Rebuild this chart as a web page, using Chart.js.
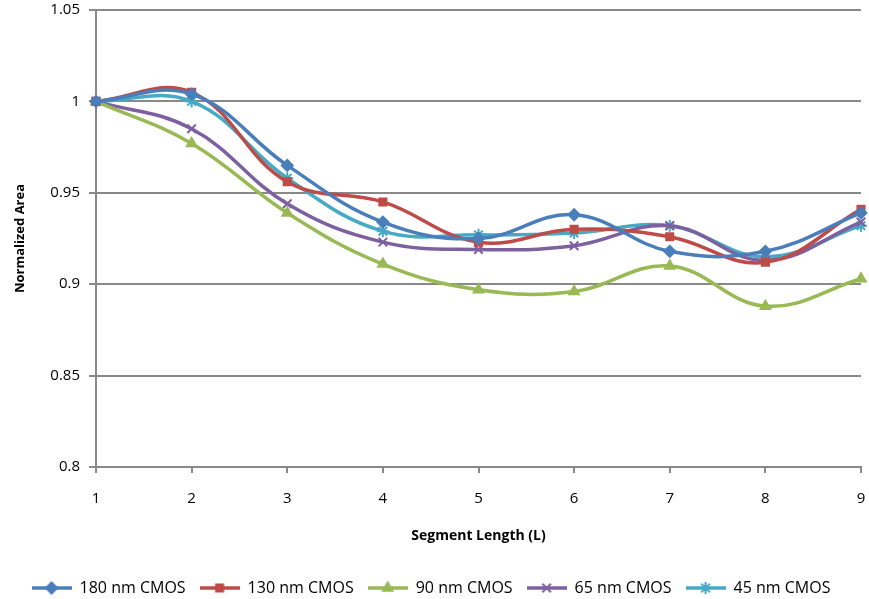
<!DOCTYPE html>
<html>
<head>
<meta charset="utf-8">
<script src="https://cdn.jsdelivr.net/npm/chart.js@4"></script>
<style>
  html, body { margin: 0; padding: 0; background: #fff; overflow: hidden; }
  canvas { display: block; }
</style>
</head>
<body>
<canvas id="areachart" width="869" height="599"></canvas>
<script>
'use strict';

const segments = [1, 2, 3, 4, 5, 6, 7, 8, 9];

const cmos180 = [1.000, 1.004, 0.965, 0.934, 0.925, 0.938, 0.918, 0.918, 0.939];
const cmos130 = [1.000, 1.005, 0.956, 0.945, 0.923, 0.930, 0.926, 0.912, 0.941];
const cmos90  = [1.000, 0.977, 0.939, 0.911, 0.897, 0.896, 0.910, 0.888, 0.903];
const cmos65  = [1.000, 0.985, 0.944, 0.923, 0.919, 0.921, 0.932, 0.913, 0.934];
const cmos45  = [1.000, 1.000, 0.958, 0.929, 0.927, 0.928, 0.932, 0.915, 0.932];

const seriesNames = ["180 nm CMOS", "130 nm CMOS", "90 nm CMOS", "65 nm CMOS", "45 nm CMOS"];
const seriesValues = [cmos180, cmos130, cmos90, cmos65, cmos45];
const colors = ["#4a7ebb", "#be4b48", "#98b954", "#7d60a0", "#46aac5"];
const markers = ["rectRot", "rect", "triangle", "crossRot", "star"];
const markerSizes = [5.5, 5, 5.5, 6, 6];

const font = "'Open Sans', 'Noto Sans', sans-serif";
const gridGrey = "#898989";

// legend swatch: short line with the marker on top, like Excel does it
function makeSwatch(color, style, r){
    var c = document.createElement("canvas");
    c.width = 40;
    c.height = 16;
    var g = c.getContext("2d");
    g.strokeStyle = color;
    g.fillStyle = color;
    g.lineWidth = 3.5;
    g.beginPath();
    g.moveTo(0, 8);
    g.lineTo(40, 8);
    g.stroke();
    g.lineWidth = 2;
    Chart.helpers.drawPoint(g, {
        pointStyle: style, radius: r, borderWidth: 2, rotation: 0
    }, 20, 8);
    return c;
}

var datasets = seriesNames.map((name, i) => ({
    label: name,
    data: seriesValues[i],
    borderColor: colors[i],
    backgroundColor: colors[i],
    borderWidth: 3.5,
    tension: 0.4,
    pointStyle: markers[i],
    pointRadius: markerSizes[i],
    pointBorderWidth: 2,
    pointHoverRadius: markerSizes[i]
}));

const ctx = document.getElementById('areachart').getContext('2d');

var areachart = new Chart(ctx, {
    type: 'line',
    data: {
        labels: segments,
        datasets: datasets
    },
    options: {
        responsive: false,
        animation: false,
        layout: { padding: { left: 0, right: 7, top: 10, bottom: -7 } },
        plugins: {
            tooltip: { enabled: false },
            legend: {
                position: 'bottom',
                labels: {
                    font: { family: font, size: 16 },
                    color: "#000",
                    usePointStyle: true,
                    pointStyleWidth: 40,
                    padding: 14,
                    generateLabels: function(chart){
                        return chart.data.datasets.map((ds, i) => ({
                            text: ds.label,
                            pointStyle: makeSwatch(colors[i], markers[i], markerSizes[i]),
                            fillStyle: colors[i],
                            strokeStyle: colors[i],
                            lineWidth: 0,
                            datasetIndex: i
                        }));
                    }
                }
            }
        },
        scales: {
            x: {
                type: 'category',
                offset: false,
                grid: {
                    display: true,
                    drawOnChartArea: false,
                    color: gridGrey,
                    lineWidth: 2,
                    tickLength: 6
                },
                border: { color: gridGrey, width: 2 },
                ticks: {
                    font: { family: font, size: 15 },
                    color: "#000",
                    padding: 17,
                    maxRotation: 0
                },
                title: {
                    display: true,
                    text: "Segment Length (L)",
                    font: { family: font, size: 14, weight: 'bold' },
                    color: "#000",
                    padding: { top: 0, bottom: 22 }
                },
                afterFit: function(scale){
                    scale.height = 99;
                    scale.paddingLeft = 0;
                    scale.paddingRight = 0;
                }
            },
            y: {
                min: 0.8,
                max: 1.05,
                grid: {
                    color: gridGrey,
                    lineWidth: 2,
                    tickLength: 7
                },
                border: { color: gridGrey, width: 2 },
                ticks: {
                    stepSize: 0.05,
                    font: { family: font, size: 15 },
                    color: "#000",
                    padding: 9,
                    callback: v => String(Number(v.toFixed(2)))
                },
                title: {
                    display: true,
                    text: "Normalized Area",
                    font: { family: font, size: 13, weight: 'bold' },
                    color: "#000",
                    padding: { top: 12, bottom: 0 }
                },
                afterFit: function(scale){
                    scale.width = 96;
                    scale.paddingTop = 0;
                    scale.paddingBottom = 0;
                }
            }
        }
    }
});
</script>
</body>
</html>
